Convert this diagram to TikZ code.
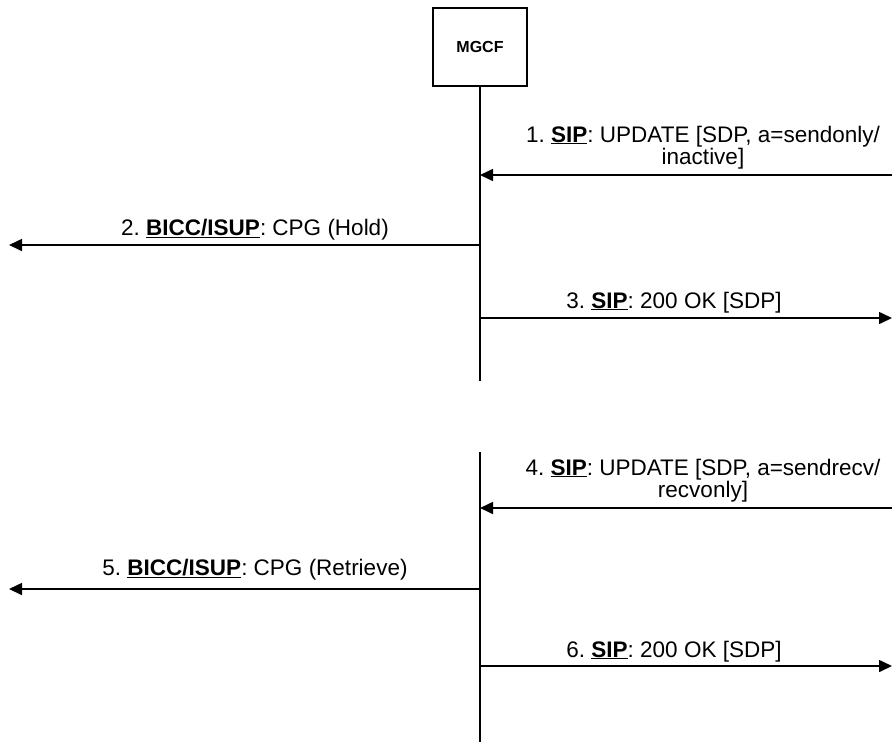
\documentclass[tikz,border=0pt]{standalone}
\usepackage{fontspec}
\setmainfont{Liberation Sans}
\usetikzlibrary{arrows.meta}
\frenchspacing
\begin{document}
\begin{tikzpicture}[x=1pt,y=-1pt,
  every node/.style={inner sep=0pt},
  entity/.style={draw,line width=1.6pt,minimum width=94pt,minimum height=78pt,font=\fontsize{16}{18}\selectfont\bfseries},
  life/.style={line width=1.6pt},
  msg/.style={line width=1.6pt,-{Triangle[length=13pt,width=12pt]}},
  lbl/.style={font=\fontsize{22.5}{20}\selectfont,align=center,anchor=base}]
\useasboundingbox (0,0) rectangle (892,742);
\node[entity] (mgcf) at (480,47) {MGCF};
\coordinate (l1b) at (480,381);
\coordinate (l2t) at (480,452);
\coordinate (l2b) at (480,742);
\draw[life] (mgcf.south) -- (l1b);
\draw[life] (l2t) -- (l2b);
% message end points
\coordinate (m1s) at (892,175); \coordinate (m1e) at (480,175);
\coordinate (m2s) at (480,245); \coordinate (m2e) at (9,245);
\coordinate (m3s) at (480,318); \coordinate (m3e) at (892,318);
\coordinate (m4s) at (892,508); \coordinate (m4e) at (480,508);
\coordinate (m5s) at (480,589); \coordinate (m5e) at (9,589);
\coordinate (m6s) at (480,666); \coordinate (m6e) at (892,666);
\draw[msg] (m1s) -- (m1e);
\draw[msg] (m2s) -- (m2e);
\draw[msg] (m3s) -- (m3e);
\draw[msg] (m4s) -- (m4e);
\draw[msg] (m5s) -- (m5e);
\draw[msg] (m6s) -- (m6e);
\node[lbl] (t1) at (703,164) {1. \underline{\textbf{SIP}}: UPDATE [SDP, a=sendonly/\\inactive]};
\node[lbl] (t2) at (255,235) {2. \underline{\textbf{BICC/ISUP}}: CPG (Hold)};
\node[lbl] (t3) at (674,308) {3. \underline{\textbf{SIP}}: 200 OK [SDP]};
\node[lbl] (t4) at (703,497) {4. \underline{\textbf{SIP}}: UPDATE [SDP, a=sendrecv/\\recvonly]};
\node[lbl] (t5) at (255,575) {5. \underline{\textbf{BICC/ISUP}}: CPG (Retrieve)};
\node[lbl] (t6) at (674,657) {6. \underline{\textbf{SIP}}: 200 OK [SDP]};
\end{tikzpicture}
\end{document}
